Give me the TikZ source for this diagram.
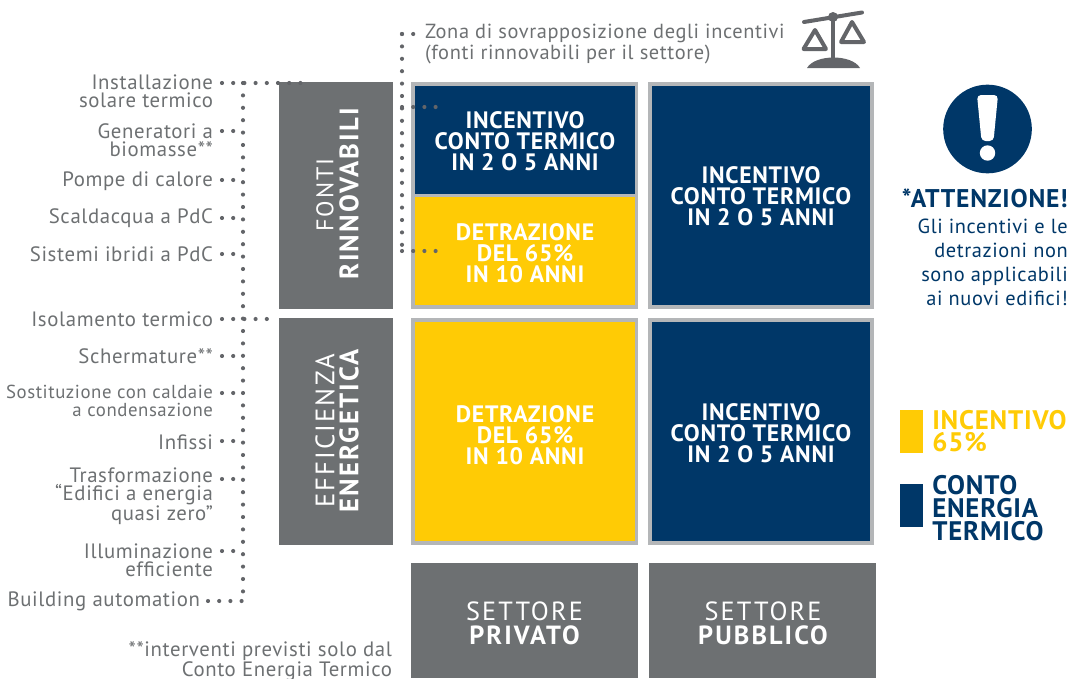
\documentclass[tikz,border=0pt]{standalone}
\usepackage{fontspec}
\setmainfont[LetterSpace=3]{PT Sans}
\newfontfamily\spaced[LetterSpace=8]{PT Sans}
\usetikzlibrary{positioning}
\definecolor{ardesia}{HTML}{6D7072}
\definecolor{notte}{HTML}{003768}
\definecolor{sole}{HTML}{FFCB05}
\definecolor{argento}{HTML}{B4B6B8}
\definecolor{punti}{HTML}{636569}
\tikzset{
  label/.style={anchor=east,align=right,text=ardesia,inner sep=0pt,outer sep=0pt,font=\fontsize{15.6}{13.5}\selectfont},
  side/.style={fill=ardesia,inner sep=0pt,minimum width=85.5pt,minimum height=170.25pt},
  sector/.style={fill=ardesia,inner sep=0pt,minimum width=170.25pt,minimum height=86.25pt},
  panel/.style={draw=argento,line width=2.8pt,inner sep=0pt},
  celltext/.style={align=center,text=white,inner sep=0pt,font=\bfseries\fontsize{17.8}{15.75}\selectfont},
  sidetext/.style={rotate=90,text=white,inner sep=0pt,font=\spaced\fontsize{20}{20}\selectfont},
  sectortext/.style={text=white,inner sep=0pt,font=\spaced\fontsize{19.7}{20}\selectfont},
  dots/.style={punti,line width=3.1pt,line cap=round,dash pattern=on 0pt off 8.4pt},
  vdots/.style={punti,line width=3.1pt,line cap=round,dash pattern=on 0pt off 9.3pt}
}
\begin{document}
\begin{tikzpicture}[x=0.75pt,y=-0.75pt]
  \useasboundingbox (0,0) rectangle (1069,678);
  % boxes
  \node (fonti) at (336,195.5) [side] {};
  \node (efficienza) at (336,431.5) [side] {};
  \node (a) at (524.7,139.6) [panel,fill=notte,minimum width=167.6pt,minimum height=83.8pt] {};
  \node (b) at (524.7,251.4) [panel,fill=sole,minimum width=167.6pt,minimum height=83.8pt] {};
  \node (c) at (761,195.5) [panel,fill=notte,minimum width=167pt,minimum height=167.6pt] {};
  \node (d) at (524.7,431.5) [panel,fill=sole,minimum width=167.6pt,minimum height=167.6pt] {};
  \node (e) at (761,431.5) [panel,fill=notte,minimum width=167pt,minimum height=167.6pt] {};
  \node (privato) at (524.5,620.5) [sector] {};
  \node (pubblico) at (762.5,620.5) [sector] {};
  % texts of the boxes
  \node (ta) at (525,141) [celltext] {INCENTIVO\\CONTO TERMICO\\IN 2 O 5 ANNI};
  \node (tb) at (525,253) [celltext] {DETRAZIONE\\DEL 65\%\\IN 10 ANNI};
  \node (tc) at (761,196) [celltext] {INCENTIVO\\CONTO TERMICO\\IN 2 O 5 ANNI};
  \node (td) at (525,435) [celltext] {DETRAZIONE\\DEL 65\%\\IN 10 ANNI};
  \node (te) at (761,433) [celltext] {INCENTIVO\\CONTO TERMICO\\IN 2 O 5 ANNI};
  \node (f1) at (325,195) [sidetext,font=\spaced\fontsize{18}{18}\selectfont] {FONTI};
  \node (f2) at (349,194) [sidetext] {\bfseries RINNOVABILI};
  \node (e1) at (325,431) [sidetext] {EFFICIENZA};
  \node (e2) at (349,431) [sidetext] {\bfseries ENERGETICA};
  \node (p1) at (524.5,611) [sectortext] {SETTORE};
  \node (p2) at (524.5,635) [sectortext] {\bfseries PRIVATO};
  \node (q1) at (763,611) [sectortext] {SETTORE};
  \node (q2) at (763,635) [sectortext] {\bfseries PUBBLICO};
  % labels on the left
  \node (l1) at (213,91) [label] {Installazione\\solare termico};
  \node (l2) at (213,140) [label] {Generatori a\\biomasse**};
  \node (l3) at (213,181) [label] {Pompe di calore};
  \node (l4) at (213,218) [label] {Scaldacqua a PdC};
  \node (l5) at (213,254) [label] {Sistemi ibridi a PdC};
  \node (l6) at (213,319) [label] {Isolamento termico};
  \node (l7) at (213,356) [label] {Schermature**};
  \node (l8) at (213,401) [label,font=\fontsize{14.1}{13.5}\selectfont] {Sostituzione con caldaie\\a condensazione};
  \node (l9) at (213,442) [label] {Infissi};
  \node (l10) at (213,496) [label] {Trasformazione\\``Edifici a energia\\quasi zero''};
  \node (l11) at (213,560) [label] {Illuminazione\\efficiente};
  \node (l12) at (200,601) [label] {Building automation};
  \node (note) at (392,661) [label] {**interventi previsti solo dal\\Conto Energia Termico};
  \node (zona) at (425,44) [label,anchor=west,align=left,font=\fontsize{15.3}{13.5}\selectfont] {Zona di sovrapposizione degli incentivi\\(fonti rinnovabili per il settore)};
  % dotted lines
  \coordinate (t1) at (243,83);
  \coordinate (t2) at (243,601);
  \coordinate (u1) at (402,34);
  \coordinate (u2) at (402,251);
  \draw[vdots] (t1) -- (t2);
  \draw[vdots] (u1) -- (u2);
  \draw[dots] (222,83) -- (310,83);
  \draw[dots] (222,131) -- (t1 |- 0,131);
  \draw[dots] (222,180) -- (t1 |- 0,180);
  \draw[dots] (222,218) -- (t1 |- 0,218);
  \draw[dots] (222,254) -- (t1 |- 0,254);
  \draw[dots] (222,319) -- (270,319);
  \draw[dots] (222,356) -- (t1 |- 0,356);
  \draw[dots] (222,393) -- (t1 |- 0,393);
  \draw[dots] (222,441) -- (t1 |- 0,441);
  \draw[dots] (222,479) -- (t1 |- 0,479);
  \draw[dots] (222,551) -- (t1 |- 0,551);
  \draw[dots] (208,601) -- (t2);
  \draw[dots] (u1) -- (418,34);
  \draw[dots] (402,107) -- (437,107);
  \draw[dots] (u2) -- (440,251);
  % balance
  \draw[punti,line width=3pt,line cap=round] (804,22) -- (862,12.5);
  \fill[punti] (833,17) circle (5);
  \draw[punti,line width=2.6pt] (833,20) -- (833,60);
  \fill[punti] (807,68) .. controls (815,54) and (852,54) .. (860,68) -- cycle;
  \draw[punti,line width=3pt,line join=round] (815,30) -- (803.5,49) -- (826,49) -- cycle;
  \draw[punti,line width=3pt,line join=round] (852,22) -- (841,42) -- (864,42) -- cycle;
  % warning
  \node (segno) at (987.5,129) [circle,fill=notte,minimum size=66.5pt,inner sep=0pt] {};
  \fill[white,rounded corners=3pt] (977,95) -- (998,95) -- (993.5,141) -- (981.5,141) -- cycle;
  \fill[white] (987.5,153) circle (7.7);
  \node (attenzione) at (1068,198) [anchor=east,inner sep=0pt,text=notte,font=\bfseries\fontsize{19.2}{18}\selectfont] {*ATTENZIONE!};
  \node (avviso) at (1068,262) [anchor=east,inner sep=0pt,align=right,text=notte,font=\fontsize{15.3}{18}\selectfont] {Gli incentivi e le\\detrazioni non\\sono applicabili\\ai nuovi edifici!};
  % legend
  \node (y) at (911.5,431.5) [fill=sole,minimum width=17.5pt,minimum height=32.5pt,inner sep=0pt] {};
  \node (n) at (911.5,505.5) [fill=notte,minimum width=17.5pt,minimum height=32.5pt,inner sep=0pt] {};
  \node (ty) at (932,431) [anchor=west,inner sep=0pt,align=left,text=sole,font=\bfseries\fontsize{20.1}{17}\selectfont] {INCENTIVO\\65\%};
  \node (tn) at (932,508) [anchor=west,inner sep=0pt,align=left,text=notte,font=\bfseries\fontsize{20.1}{17.2}\selectfont] {CONTO\\ENERGIA\\TERMICO};
\end{tikzpicture}
\end{document}
